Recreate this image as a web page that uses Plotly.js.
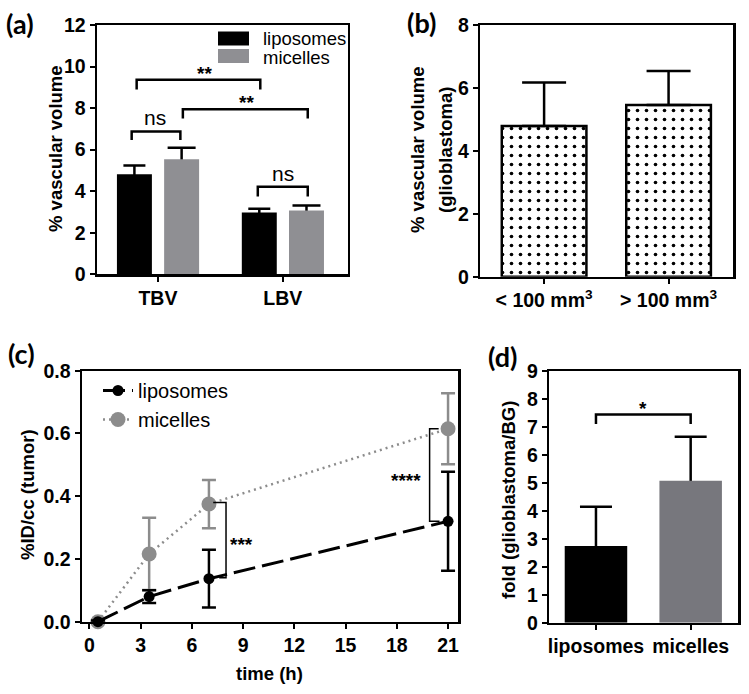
<!DOCTYPE html>
<html>
<head>
<meta charset="utf-8">
<script src="https://cdn.plot.ly/plotly-3.0.1.min.js"></script>
<style>
  html, body { margin: 0; padding: 0; background: #fff; }
  #fig { width: 749px; height: 694px; }
</style>
</head>
<body>
<div id="fig"></div>
<script>
// panel (a): vascular volume, TBV vs LBV
const volGroups = ["TBV", "LBV"];
const volLipo = [4.82, 2.98];
const volLipoErr = [0.42, 0.17];
const volMic = [5.54, 3.07];
const volMicErr = [0.55, 0.24];

// panel (b): glioblastoma vascular volume by tumour size
const sizeGroups = ["< 100 mm<sup>3</sup>", "> 100 mm<sup>3</sup>"];
const gbmVol = [4.79, 5.46];
const gbmVolErr = [1.38, 1.08];

// panel (c): uptake over time
const timeH = [0.5, 3.5, 7, 21];
const idLipo = [0, 0.08, 0.137, 0.32];
const idLipoErr = [0.004, 0.02, 0.092, 0.158];
const idMic = [0, 0.216, 0.375, 0.615];
const idMicErr = [0.004, 0.115, 0.077, 0.113];

// panel (d): fold glioblastoma / background
const foldGroups = ["liposomes", "micelles"];
const foldVal = [2.74, 5.07];
const foldErr = [1.4, 1.57];

const W = 749, H = 694;
const px = (v) => v / W;
const py = (v) => 1 - v / H;

const BLACK = "#000000";
const GREY_A = "#8f8f93";
const GREY_C = "#8c8c8c";
const GREY_D = "#77777d";
const FONT = "Liberation Sans, Arial, sans-serif";
const tickFont = { family: FONT, size: 19.5, color: BLACK, weight: "bold" };

function axisStyle(extra) {
  return Object.assign({
    showline: true, mirror: true, linewidth: 2.2, linecolor: BLACK,
    ticks: "outside", ticklen: 5, tickwidth: 2, tickcolor: BLACK,
    showgrid: false, zeroline: false, tickfont: tickFont, fixedrange: true
  }, extra);
}

// upper-only error bars: drawn by a clear bar sitting just under the real one,
// so the lower cap gets hidden by the real bar drawn afterwards
function errLayer(x, y, err, dip, xa, ya, width, offset, cap) {
  return {
    type: "bar", x: x, y: y.map((v) => v - dip), xaxis: xa, yaxis: ya,
    width: width, offset: offset, marker: { color: "rgba(0,0,0,0)" },
    error_y: { type: "data", symmetric: false, array: err.map((e) => e + dip),
      arrayminus: err.map(() => 0), color: BLACK, thickness: 2.5, width: cap },
    showlegend: false, hoverinfo: "skip"
  };
}

const data = [
  // (a)
  errLayer(volGroups, volLipo, volLipoErr, 0.15, "x", "y", 0.28, -0.328, 11),
  errLayer(volGroups, volMic, volMicErr, 0.15, "x", "y", 0.28, 0.05, 14),
  {
    type: "bar", x: volGroups, y: volLipo, xaxis: "x", yaxis: "y",
    width: 0.28, offset: -0.328, marker: { color: BLACK },
    showlegend: false, hoverinfo: "skip"
  },
  {
    type: "bar", x: volGroups, y: volMic, xaxis: "x", yaxis: "y",
    width: 0.28, offset: 0.05, marker: { color: GREY_A },
    showlegend: false, hoverinfo: "skip"
  },
  // (b)
  {
    type: "bar", x: sizeGroups, y: gbmVol, xaxis: "x2", yaxis: "y2",
    width: 0.68,
    marker: {
      color: "white", line: { color: BLACK, width: 2.5 },
      pattern: { shape: ".", fgcolor: BLACK, bgcolor: "white", size: 9, solidity: 0.13 }
    },
    error_y: { type: "data", symmetric: false, array: gbmVolErr, arrayminus: [0, 0],
      color: BLACK, thickness: 2.5, width: 22 },
    showlegend: false, hoverinfo: "skip"
  },
  // (c) micelles first so liposomes sit on top
  {
    type: "scatter", mode: "lines+markers", name: "micelles",
    x: timeH, y: idMic, xaxis: "x3", yaxis: "y3", legendrank: 2,
    line: { color: GREY_C, width: 2.5, dash: "2px,4px" },
    marker: { color: GREY_C, size: 15 },
    error_y: { type: "data", array: idMicErr, color: GREY_C, thickness: 2.5, width: 7 },
    cliponaxis: false, hoverinfo: "skip"
  },
  {
    type: "scatter", mode: "lines+markers", name: "liposomes",
    x: timeH, y: idLipo, xaxis: "x3", yaxis: "y3", legendrank: 1,
    line: { color: BLACK, width: 3, dash: "22px,7px" },
    marker: { color: BLACK, size: 11 },
    error_y: { type: "data", array: idLipoErr, color: BLACK, thickness: 2.5, width: 7 },
    cliponaxis: false, hoverinfo: "skip"
  },
  // (d)
  errLayer(foldGroups, foldVal, foldErr, 0.15, "x4", "y4", 0.66, -0.33, 16),
  {
    type: "bar", x: foldGroups, y: foldVal, xaxis: "x4", yaxis: "y4",
    width: 0.66, offset: -0.33, marker: { color: [BLACK, GREY_D] },
    showlegend: false, hoverinfo: "skip"
  }
];

function bracket(xref, yref, pts, w) {
  const d = pts.map((p, i) => (i ? "L" : "M") + p[0] + "," + p[1]).join(" ");
  return { type: "path", xref: xref, yref: yref, path: d, line: { color: BLACK, width: w || 2.5 } };
}

const shapes = [
  // (a) significance brackets
  bracket("x", "y", [[-0.21, 6.47], [-0.21, 6.87], [0.18, 6.87], [0.18, 6.47]]),
  bracket("x", "y", [[-0.17, 8.9], [-0.17, 9.36], [0.82, 9.36], [0.82, 8.9]]),
  bracket("x", "y", [[0.2, 7.5], [0.2, 7.95], [1.2, 7.95], [1.2, 7.5]]),
  bracket("x", "y", [[0.8, 3.74], [0.8, 4.22], [1.2, 4.22], [1.2, 3.74]]),
  // (a) legend swatches
  { type: "rect", xref: "paper", yref: "paper", x0: px(218), x1: px(249), y0: py(45.5), y1: py(31.5),
    fillcolor: BLACK, line: { width: 0 } },
  { type: "rect", xref: "paper", yref: "paper", x0: px(218), x1: px(249), y0: py(63), y1: py(49),
    fillcolor: GREY_A, line: { width: 0 } },
  // (c) brackets
  bracket("x3", "y3", [[7.25, 0.38], [8.0, 0.38], [8.0, 0.14], [7.6, 0.14]], 1.5),
  bracket("x3", "y3", [[20.45, 0.615], [19.92, 0.615], [19.92, 0.32], [20.5, 0.32]], 1.5),
  // (d) bracket
  bracket("x4", "y4", [[0, 7.1], [0, 7.44], [1, 7.44], [1, 7.1]])
];

function note(text, x, y, opts) {
  return Object.assign({
    text: text, x: x, y: y, xref: "paper", yref: "paper", showarrow: false,
    xanchor: "center", yanchor: "middle",
    font: { family: FONT, size: 18.5, color: BLACK, weight: "bold" }
  }, opts || {});
}
const labelFont = { family: "Lato, Open Sans, sans-serif", size: 27, color: BLACK, weight: "bold" };
const plainFont = (s) => ({ family: FONT, size: s, color: BLACK });
const boldFont = (s) => ({ family: FONT, size: s, color: BLACK, weight: "bold" });

const annotations = [
  // panel letters
  note("(a)", px(20), py(23), { font: labelFont }),
  note("(b)", px(421), py(22), { font: labelFont }),
  note("(c)", px(21), py(353), { font: labelFont }),
  note("(d)", px(502), py(356), { font: labelFont }),
  // y titles
  note("% vascular volume", px(55), py(149), { textangle: -90 }),
  note("% vascular volume", px(417), py(150), { textangle: -90 }),
  note("(glioblastoma)", px(445), py(150), { textangle: -90 }),
  note("%ID/cc (tumor)", px(27), py(495), { textangle: -90 }),
  note("fold (glioblastoma/BG)", px(508), py(500), { textangle: -90 }),
  // x title (c)
  note("time (h)", px(269), py(673)),
  // (a) legend text
  note("liposomes", px(261), py(39), { xanchor: "left", font: plainFont(18.5) }),
  note("micelles", px(261), py(57), { xanchor: "left", font: plainFont(18.5) }),
  // (a) significance text
  note("ns", -0.02, 7.55, { xref: "x", yref: "y", font: plainFont(21) }),
  note("ns", 1.0, 4.85, { xref: "x", yref: "y", font: plainFont(21) }),
  note("**", 0.37, 9.65, { xref: "x", yref: "y", font: boldFont(19) }),
  note("**", 0.71, 8.25, { xref: "x", yref: "y", font: boldFont(19) }),
  // (c) significance text
  note("***", 8.9, 0.245, { xref: "x3", yref: "y3", font: boldFont(19) }),
  note("****", 18.56, 0.45, { xref: "x3", yref: "y3", font: boldFont(19) }),
  // (d) significance text
  note("*", 0.5, 7.65, { xref: "x4", yref: "y4", font: boldFont(19) })
];

const layout = {
  width: W, height: H,
  margin: { l: 0, r: 0, t: 0, b: 0 },
  paper_bgcolor: "white", plot_bgcolor: "white",
  font: { family: FONT, color: BLACK },
  // (a)
  xaxis: axisStyle({ domain: [px(96.7), px(347.7)], range: [-0.49, 1.52], anchor: "y" }),
  yaxis: axisStyle({ domain: [py(274.3), py(25)], range: [0, 12], dtick: 2, anchor: "x" }),
  // (b)
  xaxis2: axisStyle({ domain: [px(480), px(733.3)], range: [-0.515, 1.52], anchor: "y2" }),
  yaxis2: axisStyle({ domain: [py(276.7), py(25)], range: [0, 8], dtick: 2, anchor: "x2" }),
  // (c)
  xaxis3: axisStyle({ domain: [px(81.7), px(458.3)], range: [-0.45, 21.6], tick0: 0, dtick: 3, anchor: "y3" }),
  yaxis3: axisStyle({ domain: [py(621.7), py(370.7)], range: [0, 0.8], dtick: 0.2, tickformat: ".1f", anchor: "x3" }),
  // (d)
  xaxis4: axisStyle({ domain: [px(549), px(738.3)], range: [-0.496, 1.503], anchor: "y4" }),
  yaxis4: axisStyle({ domain: [py(622.7), py(370.7)], range: [0, 9], dtick: 1, anchor: "x4" }),
  legend: {
    x: px(98), y: py(371), xanchor: "left", yanchor: "top",
    bgcolor: "rgba(0,0,0,0)", borderwidth: 0,
    font: { family: FONT, size: 20, color: BLACK },
    tracegroupgap: 0, itemwidth: 30
  },
  shapes: shapes,
  annotations: annotations
};

Plotly.newPlot("fig", data, layout, { staticPlot: true, displayModeBar: false });
</script>
</body>
</html>
